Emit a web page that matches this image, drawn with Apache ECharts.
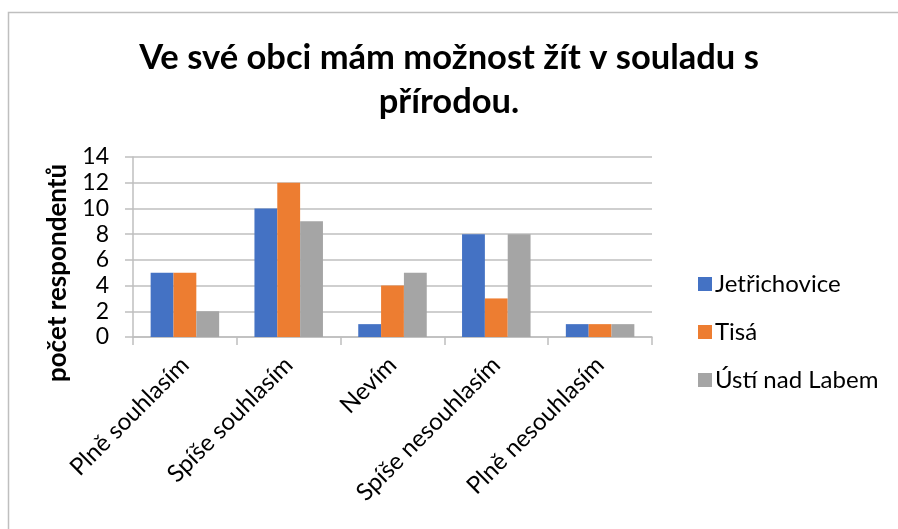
<!DOCTYPE html>
<html><head><meta charset="utf-8">
<script src="https://cdn.jsdelivr.net/npm/echarts@6/dist/echarts.min.js"></script>
<style>html,body{margin:0;padding:0;background:#fff}#c{width:898px;height:529px}</style>
</head><body><div id="c"></div>
<script>
const categories = ['Plně souhlasím','Spíše souhlasím','Nevím','Spíše nesouhlasím','Plně nesouhlasím'];
const seriesNames = ['Jetřichovice','Tisá','Ústí nad Labem'];
const jetrichovice = [5,10,1,8,1];
const tisa = [5,12,4,3,1];
const usti = [2,9,5,8,1];
const yAxisTitle = 'počet respondentů';
const colors = ['#4472C4','#ED7D31','#A5A5A5'];
const FONT = 'Lato, "Open Sans", sans-serif';
const chart = echarts.init(document.getElementById('c'));
chart.setOption({
  animation:false,
  textStyle:{fontFamily:FONT},
  title:{text:'Ve své obci mám možnost žít v souladu s\npřírodou.',left:'center',top:31,
    textStyle:{fontFamily:FONT,fontSize:34.5,fontWeight:'bold',color:'#000',lineHeight:44}},
  graphic:[
    {type:'rect',shape:{x:8.5,y:12.5,width:900,height:530},style:{fill:'none',stroke:'#bfbfbf',lineWidth:1.5},silent:true},
    {type:'text',x:58,y:273,rotation:Math.PI/2,style:{text:yAxisTitle,fontFamily:FONT,fontSize:26,fontWeight:'bold',fill:'#000',align:'center',verticalAlign:'middle'},silent:true}
  ],
  legend:{orient:'vertical',left:693,top:267,itemWidth:14,itemHeight:14,itemGap:24,icon:'rect',
    textStyle:{fontFamily:FONT,fontSize:24,color:'#000',padding:[0,0,0,-2]},data:seriesNames},
  grid:{left:133,right:246,top:157,bottom:192,containLabel:false},
  xAxis:{type:'category',data:categories,
    axisLine:{lineStyle:{color:'#bfbfbf',width:1.5}},
    axisTick:{show:true,length:8,lineStyle:{color:'#bfbfbf',width:1.5}},
    axisLabel:{rotate:45,fontSize:24,color:'#000',margin:24,interval:0}},
  yAxis:{type:'value',min:0,max:14,interval:2,
    axisLine:{show:true,lineStyle:{color:'#bfbfbf',width:1.5}},
    axisTick:{show:true,length:8,lineStyle:{color:'#bfbfbf',width:1.5}},
    splitLine:{lineStyle:{color:'#bfbfbf',width:1.5}},
    axisLabel:{fontSize:23,color:'#000',margin:24}},
  series:[
    {name:seriesNames[0],type:'bar',data:jetrichovice,itemStyle:{color:colors[0]},barGap:'0%',barCategoryGap:'34%'},
    {name:seriesNames[1],type:'bar',data:tisa,itemStyle:{color:colors[1]},barGap:'0%',barCategoryGap:'34%'},
    {name:seriesNames[2],type:'bar',data:usti,itemStyle:{color:colors[2]},barGap:'0%',barCategoryGap:'34%'}
  ]
});
</script></body></html>
